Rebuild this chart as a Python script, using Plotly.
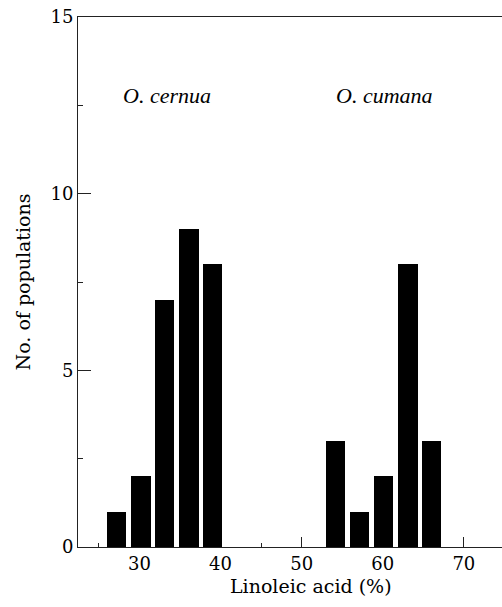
import plotly.graph_objects as go

# Data
cernua_x = [27.2, 30.2, 33.1, 36.1, 39.0]
cernua_n = [1, 2, 7, 9, 8]
cumana_x = [54.2, 57.1, 60.1, 63.1, 66.0]
cumana_n = [3, 1, 2, 8, 3]
bar_width = 2.4

x_ticks = [30, 40, 50, 60, 70]
y_ticks = [0, 5, 10, 15]

FONT = "DejaVu Serif"
IFONT = "Liberation Serif"

fig = go.Figure()
fig.add_trace(go.Bar(x=cernua_x, y=cernua_n, width=bar_width,
                     marker=dict(color="black", line=dict(width=0)),
                     name="O. cernua", showlegend=False))
fig.add_trace(go.Bar(x=cumana_x, y=cumana_n, width=bar_width,
                     marker=dict(color="black", line=dict(width=0)),
                     name="O. cumana", showlegend=False))

fig.update_layout(
    width=502, height=607,
    margin=dict(l=78, r=0, t=17, b=60),
    plot_bgcolor="white", paper_bgcolor="white",
    font=dict(family=FONT, size=18, color="black"),
    bargap=0,
)

fig.update_xaxes(
    range=[22.43, 74.7],
    tickvals=x_ticks, ticks="inside", ticklen=10, tickwidth=1, tickcolor="#222",
    showline=True, linecolor="#222", linewidth=1, mirror=True,
    showgrid=False, zeroline=False, layer="below traces",
    minor=dict(dtick=5, tick0=0, ticks="inside", ticklen=4, tickcolor="#222", showgrid=False),
    tickfont=dict(family=FONT, size=18),
)
fig.update_yaxes(
    range=[0, 15],
    tickvals=y_ticks, ticks="inside", ticklen=13, tickwidth=1, tickcolor="#222",
    showline=True, linecolor="#222", linewidth=1,
    showgrid=False, zeroline=False, layer="below traces",
    minor=dict(dtick=2.5, tick0=0, ticks="inside", ticklen=5, tickcolor="#222", showgrid=False),
    tickfont=dict(family=FONT, size=18),
    title=dict(text="No. of populations", font=dict(family=FONT, size=19), standoff=14),
)

fig.add_annotation(x=33.46, y=12.77, xref="x", yref="y", text="<i>O. cernua</i>",
                   showarrow=False, font=dict(family=IFONT, size=22))
fig.add_annotation(x=60.23, y=12.77, xref="x", yref="y", text="<i>O. cumana</i>",
                   showarrow=False, font=dict(family=IFONT, size=22))
fig.add_annotation(x=0.5495, y=-0.073, xref="paper", yref="paper", text="Linoleic acid (%)",
                   showarrow=False, yanchor="middle",
                   font=dict(family=FONT, size=19))

fig.write_html("out.html", config={"displayModeBar": False},
               post_script="document.body.style.margin='0';document.body.style.overflow='hidden';")
